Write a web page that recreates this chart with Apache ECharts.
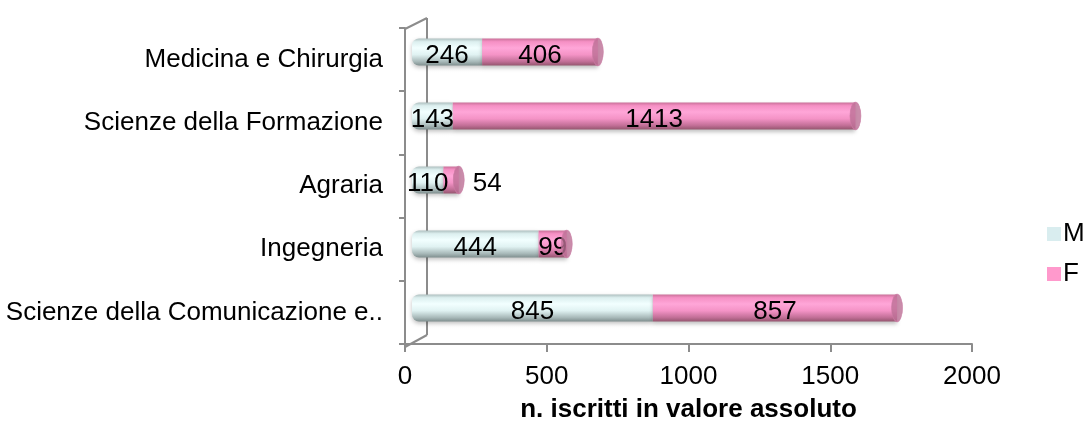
<!DOCTYPE html>
<html>
<head>
<meta charset="utf-8">
<script src="https://cdn.jsdelivr.net/npm/echarts@6/dist/echarts.min.js"></script>
<style>
  html, body { margin: 0; padding: 0; background: #fff; }
  #chart { width: 1086px; height: 428px; }
</style>
</head>
<body>
<div id="chart"></div>
<script>
// Iscritti per facoltà, divisi per sesso (dal basso verso l'alto)
const categories = [
  'Scienze della Comunicazione e..',
  'Ingegneria',
  'Agraria',
  'Scienze della Formazione',
  'Medicina e Chirurgia'
];
const maschi = [845, 444, 110, 143, 246];
const femmine = [857, 99, 54, 1413, 406];
const xTicks = { min: 0, max: 2000, interval: 500 };
const axisTitle = 'n. iscritti in valore assoluto';

const FONT = '"Liberation Sans", Arial, sans-serif';
const AXIS_GRAY = '#8c8c8c';

// cylinder shading for each segment
const gradM = new echarts.graphic.LinearGradient(0, 0, 0, 1, [
  { offset: 0, color: '#aebfbf' },
  { offset: 0.12, color: '#dcefef' },
  { offset: 0.35, color: '#f2ffff' },
  { offset: 0.6, color: '#e0f2f2' },
  { offset: 0.85, color: '#a9baba' },
  { offset: 1, color: '#7f8f8f' }
]);
const gradF = new echarts.graphic.LinearGradient(0, 0, 0, 1, [
  { offset: 0, color: '#c97099' },
  { offset: 0.12, color: '#f590c4' },
  { offset: 0.35, color: '#ffa6d8' },
  { offset: 0.6, color: '#f493c6' },
  { offset: 0.85, color: '#c26f97' },
  { offset: 1, color: '#95566f' }
]);

const totals = maschi.map((m, i) => m + femmine[i]);

const labelBase = {
  show: true,
  position: 'inside',
  color: '#000',
  fontFamily: FONT,
  fontSize: 26,
  offset: [0, 4]
};

const femmineData = femmine.map((v, i) => {
  // small segments carry their value beside the bar
  if (v < 80) {
    return { value: v, label: { position: 'right', distance: 14, offset: [0, 4] } };
  }
  return v;
});

const chart = echarts.init(document.getElementById('chart'));
chart.setOption({
  animation: false,
  backgroundColor: '#fff',
  textStyle: { fontFamily: FONT },
  legend: {
    orient: 'vertical',
    left: 1042,
    top: 216,
    itemWidth: 14,
    itemHeight: 14,
    itemGap: 14,
    textStyle: { fontFamily: FONT, fontSize: 26, color: '#000', padding: [0, 0, 0, -3] },
    data: [
      { name: 'M', icon: 'rect', itemStyle: { color: '#d9edef' } },
      { name: 'F', icon: 'rect', itemStyle: { color: '#ff99cc' } }
    ]
  },
  grid: [
    // front plane: axes and labels
    { left: 405, right: 114, top: 28, bottom: 81 },
    // back plane: the cylinders
    { left: 412, right: 104, top: 20, bottom: 88 }
  ],
  xAxis: [
    {
      gridIndex: 0,
      type: 'value',
      min: xTicks.min,
      max: xTicks.max,
      interval: xTicks.interval,
      splitLine: { show: false },
      axisLine: { show: true, lineStyle: { color: AXIS_GRAY, width: 2 } },
      axisTick: { show: true, length: 8, lineStyle: { color: AXIS_GRAY, width: 2 } },
      axisLabel: {
        color: '#000', fontFamily: FONT, fontSize: 26, margin: 20,
        formatter: (v) => String(v)
      },
      name: axisTitle,
      nameLocation: 'middle',
      nameGap: 53,
      nameTextStyle: { color: '#000', fontFamily: FONT, fontSize: 26, fontWeight: 'bold' }
    },
    {
      gridIndex: 1,
      type: 'value',
      min: xTicks.min,
      max: xTicks.max,
      show: false
    }
  ],
  yAxis: [
    {
      gridIndex: 0,
      type: 'category',
      data: categories,
      axisLine: { show: true, lineStyle: { color: AXIS_GRAY, width: 2 } },
      axisTick: { show: true, length: 6, lineStyle: { color: AXIS_GRAY, width: 2 } },
      axisLabel: { color: '#000', fontFamily: FONT, fontSize: 26, margin: 22 }
    },
    {
      gridIndex: 1,
      type: 'category',
      data: categories,
      show: false
    }
  ],
  graphic: [
    // side wall of the plot box
    { type: 'line', z: 0, shape: { x1: 427, y1: 18, x2: 427, y2: 335 }, style: { stroke: AXIS_GRAY, lineWidth: 2 } },
    { type: 'line', z: 0, shape: { x1: 405, y1: 29, x2: 427, y2: 18 }, style: { stroke: AXIS_GRAY, lineWidth: 2 } },
    { type: 'line', z: 0, shape: { x1: 405, y1: 347, x2: 427, y2: 335 }, style: { stroke: AXIS_GRAY, lineWidth: 2 } }
  ],
  series: [
    {
      name: 'M',
      type: 'bar',
      stack: 'tot',
      xAxisIndex: 1,
      yAxisIndex: 1,
      barWidth: 27,
      z: 3,
      itemStyle: {
        color: gradM,
        borderRadius: [7, 0, 0, 7],
        shadowColor: 'rgba(0,0,0,0.25)',
        shadowBlur: 4,
        shadowOffsetY: 2
      },
      label: labelBase,
      data: maschi
    },
    {
      name: 'F',
      type: 'bar',
      stack: 'tot',
      xAxisIndex: 1,
      yAxisIndex: 1,
      barWidth: 27,
      z: 3,
      itemStyle: {
        color: gradF,
        shadowColor: 'rgba(0,0,0,0.25)',
        shadowBlur: 4,
        shadowOffsetY: 2
      },
      label: labelBase,
      data: femmineData
    },
    {
      // end caps of the cylinders
      name: 'cap',
      type: 'scatter',
      xAxisIndex: 1,
      yAxisIndex: 1,
      symbol: 'circle',
      symbolSize: [11, 27],
      z: 4,
      silent: true,
      itemStyle: { color: '#bb6f95', borderColor: '#c97aa2', borderWidth: 1 },
      data: totals.map((t, i) => [t, categories[i]])
    }
  ]
});
</script>
</body>
</html>
